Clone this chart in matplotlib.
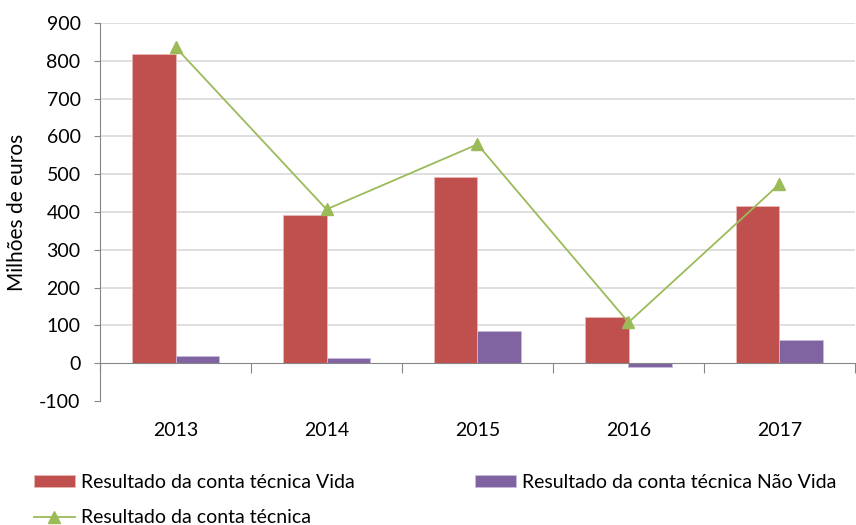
import matplotlib.pyplot as plt
import matplotlib.transforms as mtransforms
import numpy as np

# dados
anos = ["2013", "2014", "2015", "2016", "2017"]
vida = [817, 393, 492, 121, 415]
nao_vida = [19, 13, 86, -11, 62]
total = [836, 407, 579, 108, 474]

yticks = [-100, 0, 100, 200, 300, 400, 500, 600, 700, 800, 900]

plt.rcParams['font.family'] = ['Lato', 'DejaVu Sans']

fig = plt.figure(figsize=(8.56, 5.25), dpi=100)
ax = fig.add_axes([100 / 856, 1 - 401 / 525, 755 / 856, 378 / 525])

x = np.arange(len(anos))
w = 0.287
ax.bar(x - w / 2, vida, w, color='#C0504D', edgecolor='#E8B7B5', linewidth=0.6,
       label='Resultado da conta técnica Vida', zorder=2)
ax.bar(x + w / 2, nao_vida, w, color='#8064A2', edgecolor='#C9BBDA', linewidth=0.6,
       label='Resultado da conta técnica Não Vida', zorder=2)
ax.plot(x, total, color='#9BBB59', linewidth=1.3, marker='^', markersize=8,
        label='Resultado da conta técnica', zorder=3)

ax.set_xlim(-0.5, len(anos) - 0.5)
ax.set_ylim(-100, 900)
ax.set_yticks(yticks)
ax.set_yticklabels([str(v) for v in yticks], fontsize=14)
ax.yaxis.grid(True, color='#D9D9D9', linewidth=1.2, zorder=0)
ax.set_axisbelow(True)
for gl, v in zip(ax.get_ygridlines(), yticks):
    if v in (-100, 0):
        gl.set_visible(False)

for s in ['top', 'right']:
    ax.spines[s].set_visible(False)
ax.spines['bottom'].set_position(('data', 0))
ax.spines['bottom'].set_color('#868686')
ax.spines['left'].set_color('#868686')
ax.spines['bottom'].set_zorder(4)
ax.tick_params(axis='y', length=4.5, color='#868686', pad=9.5)

# marcas entre categorias
ax.set_xticks(np.arange(-0.5, len(anos), 1.0))
ax.set_xticklabels([])
ax.tick_params(axis='x', length=7, color='#868686', direction='out')

trans = mtransforms.blended_transform_factory(ax.transData, ax.transAxes)
for i, a in enumerate(anos):
    ax.text(i, -0.078, a, transform=trans, ha='center', va='center', fontsize=14)

ax.set_ylabel('Milhões de euros', fontsize=15)
ax.yaxis.set_label_coords(-0.097, 0.5)

h, l = ax.get_legend_handles_labels()
order = [1, 0, 2]
fig.legend([h[i] for i in order], [l[i] for i in order], ncol=2,
           loc='upper left', bbox_to_anchor=(34 / 856, 1 - 474 / 525),
           frameon=False, fontsize=14, borderpad=0, borderaxespad=0,
           handlelength=2.1, handleheight=0.6, handletextpad=0.3,
           columnspacing=6.2, labelspacing=0.95)

fig.savefig('out.png', dpi=100)
